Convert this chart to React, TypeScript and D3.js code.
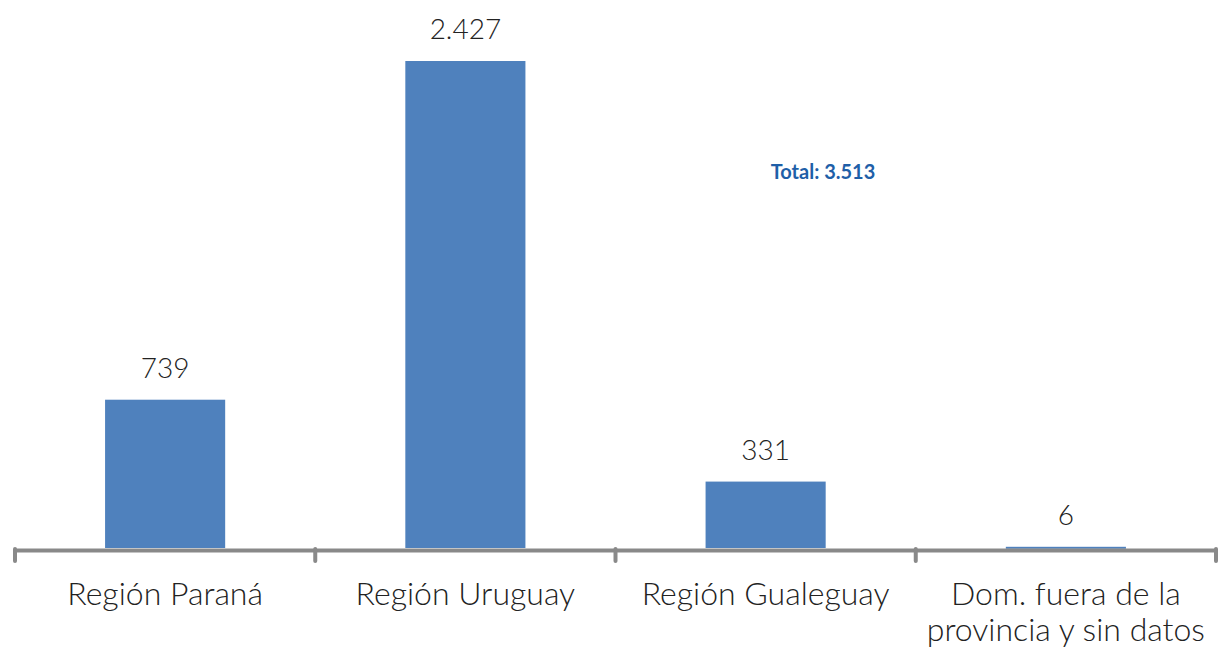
import React from "react";
import * as d3 from "d3";

const categories = ["Región Paraná", "Región Uruguay", "Región Gualeguay", "Dom. fuera de la|provincia y sin datos"];
const values = [739, 2427, 331, 6];
const valueLabels = ["739", "2.427", "331", "6"];
const totalLabel = "Total: 3.513";

export default function App() {
  const W = 1221, H = 653;
  const left = 15, right = 1216, baseline = 548;
  const x = d3.scaleBand<string>().domain(categories).range([left, right]).paddingInner(0.6).paddingOuter(0.3);
  const xb = d3.scaleBand<string>().domain(categories).range([left, right]);
  const y = d3.scaleLinear().domain([0, 2427]).range([baseline, 61]);
  const font = "'Lato', 'Open Sans', sans-serif";
  return (
    <svg width={W} height={H} style={{ position: "absolute", left: 0, top: 0 }}>
      {categories.map((c, i) => (
        <g key={c}>
          <rect x={x(c)!} y={y(values[i])} width={x.bandwidth()} height={Math.max(baseline - y(values[i]), 2)} fill="#4F81BD" />
          <text x={x(c)! + x.bandwidth() / 2} y={y(values[i]) - 22} textAnchor="middle" fontFamily={font} fontWeight={300} fontSize={28} fill="#222">{valueLabels[i]}</text>
          {c.split("|").map((line, j) => (
            <text key={j} x={xb(c)! + xb.bandwidth() / 2} y={605 + j * 36} textAnchor="middle" fontFamily={font} fontWeight={300} fontSize={32} fill="#222">{line}</text>
          ))}
        </g>
      ))}
      <line x1={left} x2={right} y1={550.5} y2={550.5} stroke="#898989" strokeWidth={4} />
      {[...categories.map((c) => xb(c)!), right].map((tx, i) => (
        <line key={i} x1={tx} x2={tx} y1={549} y2={561} stroke="#898989" strokeWidth={4} strokeLinecap="round" />
      ))}
      <text x={823} y={179} textAnchor="middle" fontFamily={font} fontWeight={700} fontSize={20} fill="#1F5FA8">{totalLabel}</text>
    </svg>
  );
}
